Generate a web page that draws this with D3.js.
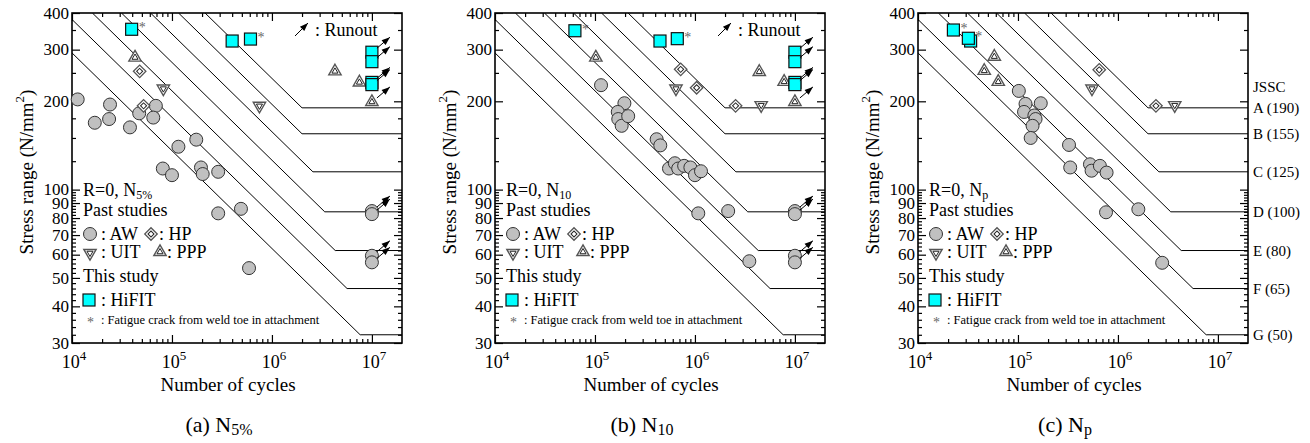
<!DOCTYPE html>
<meta charset="utf-8">
<script src="https://d3js.org/d3.v7.min.js"></script>
<style>
  body { margin: 0; background: #fff; }
  svg, text { font-family: "Liberation Serif", "DejaVu Serif", serif; }
  text { fill: #000; }
</style>
<div id="chart"></div>
<script>

// JSSC design curves (strength at 2e6 cycles, constant amplitude cut-off)
const jsscClass = ["A", "B", "C", "D", "E", "F", "G"];
const jsscStrength = [190, 155, 125, 100, 80, 65, 50];
const jsscCutoff = [190, 155, 115, 84, 62, 46, 32];

const yTickValues = [30, 40, 50, 60, 70, 80, 90, 100, 200, 300, 400];
const xTickValues = [1e4, 1e5, 1e6, 1e7];

// (a) N5%   [cycles, stress range]
const awA = [[1.14e4,203],[1.69e4,169],[2.4e4,195],[2.35e4,174],[3.8e4,163],[4.7e4,182],[6.9e4,193],[6.5e4,176],
  [1.16e5,140],[1.75e5,148],[8.1e4,118],[1.0e5,112],[1.95e5,119],[2.03e5,113],[2.9e5,115],[2.9e5,83],[4.9e5,86],[5.9e5,54]];
const hpA = [[4.75e4,253],[5.2e4,193]];
const uitA = [[8.2e4,221],[7.5e5,193]];
const pppA = [[4.27e4,282],[4.27e6,253],[7.5e6,232]];
const hifitA = [[3.95e4,352,1],[4.0e5,321,0],[6.1e5,326,1]];   // third value: crack from weld toe in attachment
// runouts
const awRunA = [[1e7,84.5],[1e7,82.5],[1e7,59.5],[1e7,56.5]];
const pppRunA = [[1e7,199]];
const hifitRunA = [[1e7,294],[1e7,273],[1e7,232],[1e7,228]];

// (b) N10
const awB = [[1.15e5,227],[1.97e5,197],[1.69e5,184],[1.71e5,174],[1.85e5,165],[2.15e5,178],[4.14e5,148.5],[4.5e5,141.5],
  [5.5e5,118],[6.3e5,123],[6.8e5,118],[7.8e5,120.5],[9.0e5,119],[1.0e6,112],[1.15e6,115.5],[1.08e6,83],[2.15e6,84.5],[3.5e6,57]];
const hpB = [[7.2e5,257],[1.04e6,222.5],[2.55e6,193]];
const uitB = [[6.46e5,221],[4.6e6,194]];
const pppB = [[1.02e5,282],[4.4e6,252],[7.8e6,233]];
const hifitB = [[6.3e4,348,1],[4.47e5,321,0],[6.66e5,327,1]];
const awRunB = [[1e7,84.5],[1e7,82.5],[1e7,59.5],[1e7,56.5]];
const pppRunB = [[1e7,199]];
const hifitRunB = [[1e7,294],[1e7,273],[1e7,232],[1e7,228]];

// (c) Np
const awC = [[1.02e5,217],[1.19e5,196],[1.69e5,197],[1.15e5,184],[1.46e5,179],[1.5e5,174],[1.4e5,165],[1.34e5,150],
  [3.24e5,142],[3.33e5,119],[5.25e5,122],[5.45e5,116],[6.6e5,120.5],[7.7e5,114.3],[7.6e5,83.7],[1.6e6,85.7],[2.77e6,56.3]];
const hpC = [[6.5e5,256],[2.4e6,193]];
const uitC = [[5.5e5,221],[3.7e6,194]];
const pppC = [[5.8e4,284],[4.6e4,254],[6.35e4,233]];
const hifitC = [[2.26e4,350,1],[3.36e4,321,0],[3.19e4,328,1]];

const panels = [
  {key: "a", left: 72, letter: "(a)", sub: "5%", aw: awA, hp: hpA, uit: uitA, ppp: pppA, hifit: hifitA,
   awRun: awRunA, pppRun: pppRunA, hifitRun: hifitRunA, runLegend: true, jssc: false},
  {key: "b", left: 495, letter: "(b)", sub: "10", aw: awB, hp: hpB, uit: uitB, ppp: pppB, hifit: hifitB,
   awRun: awRunB, pppRun: pppRunB, hifitRun: hifitRunB, runLegend: true, jssc: false},
  {key: "c", left: 918, letter: "(c)", sub: "p", aw: awC, hp: hpC, uit: uitC, ppp: pppC, hifit: hifitC,
   awRun: [], pppRun: [], hifitRun: [], runLegend: false, jssc: true}
];

const plotTop = 13, plotW = 330, plotH = 330;

const svg = d3.select("#chart").append("svg")
  .attr("width", 1310).attr("height", 443)
  .attr("font-family", "Liberation Serif, DejaVu Serif, serif");

// arrow head for runouts
svg.append("defs").append("marker")
  .attr("id", "arrow")
  .attr("markerUnits", "userSpaceOnUse")
  .attr("markerWidth", 10).attr("markerHeight", 10)
  .attr("viewBox", "-8 -4 9 8")
  .attr("refX", 0).attr("refY", 0)
  .attr("orient", "auto")
  .append("path").attr("d", "M0,0 L-7.5,-2.8 L-7.5,2.8 Z").attr("fill", "#000");

const triOuter = d3.symbol().type(d3.symbolTriangle).size(66)();
const triInner = d3.symbol().type(d3.symbolTriangle).size(16)();
const diaOuter = d3.symbol().type(d3.symbolSquare).size(78)();
const diaInner = d3.symbol().type(d3.symbolSquare).size(18)();

function circle(g, cx, cy) {
  g.append("circle").attr("cx", cx).attr("cy", cy).attr("r", 6.5)
    .attr("fill", "#c0c0c0").attr("stroke", "#333").attr("stroke-width", 1);
}
function diamond(g, cx, cy) {
  const s = g.append("g").attr("transform", `translate(${cx},${cy}) rotate(45)`);
  s.append("path").attr("d", diaOuter).attr("fill", "#fff").attr("stroke", "#555").attr("stroke-width", 1.3);
  s.append("path").attr("d", diaInner).attr("fill", "#fff").attr("stroke", "#222").attr("stroke-width", 1);
}
function triangle(g, cx, cy, down) {
  const s = g.append("g").attr("transform", `translate(${cx},${cy})${down ? " rotate(180)" : ""}`);
  s.append("path").attr("d", triOuter).attr("fill", "#fff").attr("stroke", "#555").attr("stroke-width", 1.4);
  s.append("path").attr("d", triInner).attr("fill", "#fff").attr("stroke", "#222").attr("stroke-width", 1);
}
function square(g, cx, cy) {
  g.append("rect").attr("x", cx - 6).attr("y", cy - 6).attr("width", 12).attr("height", 12)
    .attr("fill", "#00ffff").attr("stroke", "#111").attr("stroke-width", 1.2);
}
function star(g, cx, cy) {
  g.append("text").attr("x", cx).attr("y", cy).attr("font-size", 14).style("fill", "#666").text("*");
}
function arrow(g, x1, y1, x2, y2) {
  g.append("line").attr("x1", x1).attr("y1", y1).attr("x2", x2).attr("y2", y2)
    .attr("stroke", "#000").attr("stroke-width", 1).attr("marker-end", "url(#arrow)");
}

function drawPanel(p) {
  const g = svg.append("g").attr("transform", `translate(${p.left},${plotTop})`);

  const x = d3.scaleLog().domain([1e4, 2e7]).range([0, plotW]);
  const y = d3.scaleLog().domain([30, 400]).range([plotH, 0]);

  g.append("clipPath").attr("id", "clip" + p.key)
    .append("rect").attr("width", plotW).attr("height", plotH);

  // design curves
  const line = d3.line().x(d => x(d[0])).y(d => y(d[1]));
  const curves = g.append("g").attr("clip-path", `url(#clip${p.key})`);
  jsscStrength.forEach((sf, i) => {
    const cut = jsscCutoff[i];
    const nStart = Math.max(1e4, 2e6 * Math.pow(sf / 400, 3));
    const nKnee = 2e6 * Math.pow(sf / cut, 3);
    const pts = [[nStart, sf * Math.cbrt(2e6 / nStart)], [nKnee, cut], [2e7, cut]];
    curves.append("path").attr("d", line(pts))
      .attr("fill", "none").attr("stroke", "#000").attr("stroke-width", 1);
  });

  // ticks, inward on all four sides
  const xMinor = [];
  [1e4, 1e5, 1e6, 1e7].forEach(d => { for (let k = 2; k <= 9; k++) if (k * d < 1.95e7) xMinor.push(k * d); });
  const yMinor = [];
  for (let v = 32; v < 100; v += 2) if (v % 10 !== 0) yMinor.push(v);
  yMinor.push(125, 150, 175, 250, 350);

  const tk = (axis, vals, size, tr) => {
    g.append("g").attr("transform", tr)
      .call(axis.tickValues(vals).tickSizeInner(-size).tickSizeOuter(0).tickFormat(""))
      .call(a => a.select(".domain").remove())
      .call(a => a.selectAll("line").attr("stroke", "#000").attr("stroke-width", 1.2));
  };
  tk(d3.axisBottom(x), xTickValues, 8, `translate(0,${plotH})`);
  tk(d3.axisBottom(x), xMinor, 4, `translate(0,${plotH})`);
  tk(d3.axisTop(x), xTickValues, 8, "translate(0,0)");
  tk(d3.axisTop(x), xMinor, 4, "translate(0,0)");
  tk(d3.axisLeft(y), yTickValues, 8, "translate(0,0)");
  tk(d3.axisLeft(y), yMinor, 4, "translate(0,0)");
  tk(d3.axisRight(y), yTickValues, 8, `translate(${plotW},0)`);
  tk(d3.axisRight(y), yMinor, 4, `translate(${plotW},0)`);

  g.append("rect").attr("width", plotW).attr("height", plotH)
    .attr("fill", "none").attr("stroke", "#000").attr("stroke-width", 1.6);

  // tick labels
  g.selectAll(".ylab").data(yTickValues).join("text")
    .attr("x", -3).attr("y", d => y(d)).attr("dy", "0.34em")
    .attr("text-anchor", "end").attr("font-size", 17).text(d => d);
  xTickValues.forEach(v => {
    const t = g.append("text").attr("x", x(v) + 2).attr("y", plotH + 25)
      .attr("text-anchor", "middle").attr("font-size", 18);
    t.append("tspan").text("10");
    t.append("tspan").attr("font-size", 13).attr("dy", -8).text(Math.log10(v));
  });

  // axis titles
  g.append("text").attr("x", 156).attr("y", plotH + 48)
    .attr("text-anchor", "middle").attr("font-size", 19).text("Number of cycles");
  const yt = g.append("text").attr("transform", `translate(-39,${172 - plotTop}) rotate(-90)`)
    .attr("text-anchor", "middle").attr("font-size", 19);
  yt.append("tspan").text("Stress range (N/mm");
  yt.append("tspan").attr("font-size", 13).attr("dy", -9).text("2");
  yt.append("tspan").attr("dy", 9).text(")");

  // caption
  const cap = g.append("text").attr("x", 147).attr("y", 432 - plotTop)
    .attr("text-anchor", "middle").attr("font-size", 22);
  cap.append("tspan").text(p.letter + " N");
  cap.append("tspan").attr("font-size", 16).attr("dy", 3).text(p.sub);

  // data
  const pts = g.append("g");
  p.aw.forEach(d => circle(pts, x(d[0]), y(d[1])));
  p.awRun.forEach(d => circle(pts, x(d[0]), y(d[1])));
  p.hp.forEach(d => diamond(pts, x(d[0]), y(d[1])));
  p.uit.forEach(d => triangle(pts, x(d[0]), y(d[1]), true));
  p.ppp.forEach(d => triangle(pts, x(d[0]), y(d[1]), false));
  p.pppRun.forEach(d => triangle(pts, x(d[0]), y(d[1]), false));
  p.hifit.forEach(d => square(pts, x(d[0]), y(d[1])));
  p.hifitRun.forEach(d => square(pts, x(d[0]), y(d[1])));
  p.hifit.forEach(d => { if (d[2]) star(pts, x(d[0]) + 7, y(d[1]) + 3); });
  [...p.awRun, ...p.pppRun, ...p.hifitRun].forEach(d => {
    const cx = x(d[0]), cy = y(d[1]);
    arrow(pts, cx + 5, cy - 4, cx + 18, cy - 15);
  });

  // legend text block
  const lx = 11;
  const rt = g.append("text").attr("x", lx).attr("y", 196 - plotTop).attr("font-size", 18);
  rt.append("tspan").text("R=0, N");
  rt.append("tspan").attr("font-size", 12).attr("dy", 3).text(p.sub);
  g.append("text").attr("x", lx).attr("y", 216 - plotTop).attr("font-size", 18).text("Past studies");
  circle(g, 18, 234 - plotTop);
  g.append("text").attr("x", 29).attr("y", 240 - plotTop).attr("font-size", 18).text(": AW");
  diamond(g, 79, 234 - plotTop);
  g.append("text").attr("x", 87).attr("y", 240 - plotTop).attr("font-size", 18).text(": HP");
  triangle(g, 18, 253 - plotTop, true);
  g.append("text").attr("x", 29).attr("y", 258 - plotTop).attr("font-size", 18).text(": UIT");
  triangle(g, 88, 252 - plotTop, false);
  g.append("text").attr("x", 95).attr("y", 258 - plotTop).attr("font-size", 18).text(": PPP");
  g.append("text").attr("x", lx).attr("y", 282 - plotTop).attr("font-size", 18).text("This study");
  square(g, 17, 300 - plotTop);
  g.append("text").attr("x", 29).attr("y", 306 - plotTop).attr("font-size", 18).text(": HiFIT");
  star(g, 15, 327 - plotTop);
  g.append("text").attr("x", 29).attr("y", 324 - plotTop).attr("font-size", 12.5)
    .text(": Fatigue crack from weld toe in attachment");

  if (p.runLegend) {
    arrow(g, 223, 36 - plotTop, 236, 23 - plotTop);
    g.append("text").attr("x", 243).attr("y", 36 - plotTop).attr("font-size", 18).text(": Runout");
  }

  if (p.jssc) {
    g.append("text").attr("x", plotW + 5).attr("y", 92 - plotTop).attr("font-size", 15).text("JSSC");
    jsscClass.forEach((c, i) => {
      g.append("text").attr("x", plotW + 5).attr("y", y(jsscCutoff[i])).attr("dy", "0.35em")
        .attr("font-size", 15).text(`${c} (${jsscStrength[i]})`);
    });
  }
}

panels.forEach(drawPanel);

</script>
